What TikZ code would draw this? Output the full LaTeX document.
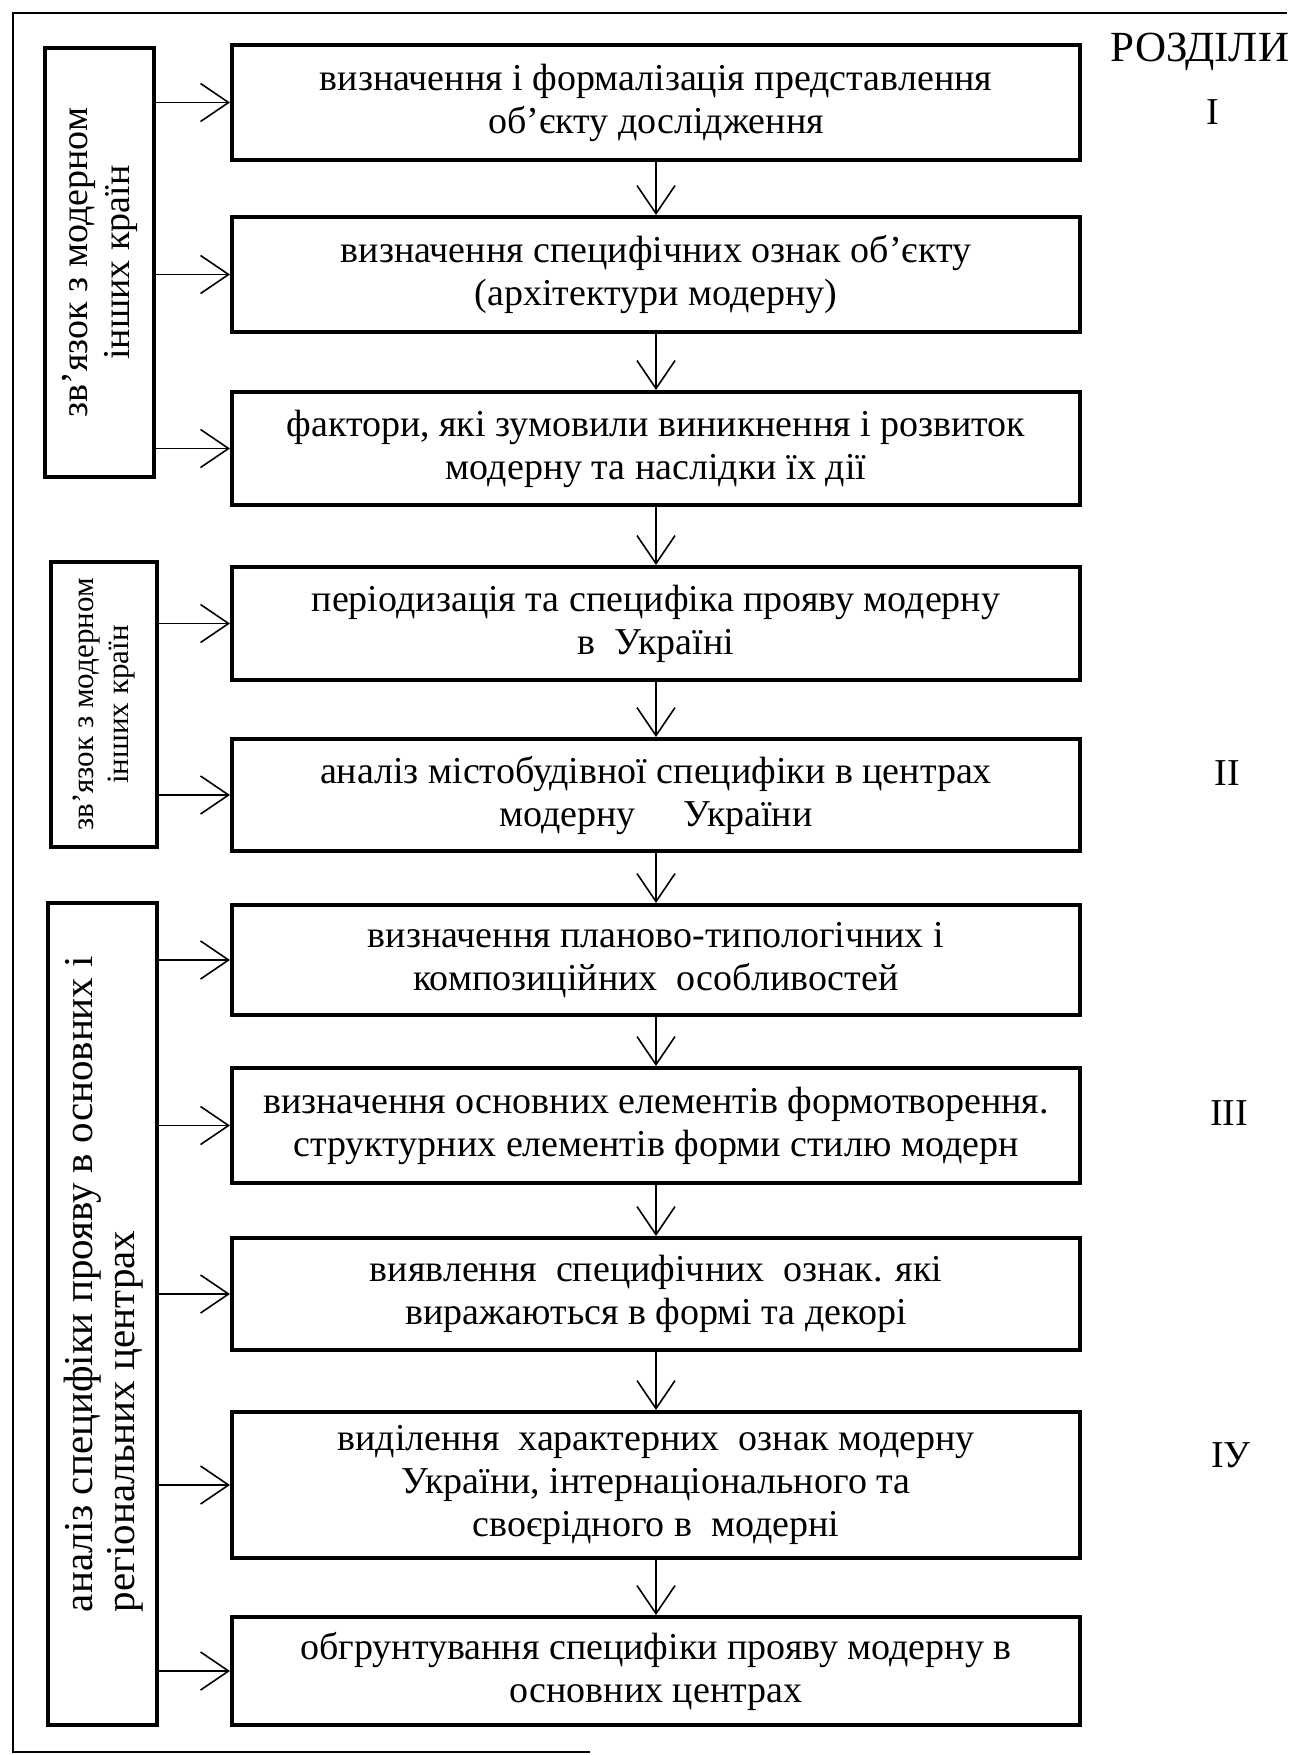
\documentclass[tikz,border=0pt]{standalone}
\usepackage{fontspec}
\setmainfont{Liberation Serif}
\usetikzlibrary{arrows.meta}
\tikzset{
  stage/.style={draw,line width=2pt,minimum width=424pt,inner sep=2pt,align=center,
    font=\fontsize{19pt}{21.5pt}\selectfont},
  side/.style={draw,line width=2pt,inner sep=0pt},
  sidetext/.style={rotate=90,inner sep=0pt,font=\fontsize{19pt}{21pt}\selectfont},
  link/.style={line width=0.8pt,-{Straight Barb[length=14pt,width=19pt,line width=0.8pt]}},
  part/.style={inner sep=0pt,anchor=base,font=\fontsize{19pt}{21pt}\selectfont}
}
\begin{document}
\begin{tikzpicture}[x=0.5pt,y=-0.5pt]
\useasboundingbox (0,0) rectangle (1297,1755);
\draw[line width=0.7pt] (590,1752) -- (13,1752) -- (13,13) -- (1287,13);
\node[stage,minimum height=57.5pt] (b1) at (656,102.5) {визначення і формалізація представлення\\ об’єкту дослідження};
\node[stage,minimum height=57.5pt] (b2) at (656,274.5) {визначення специфічних ознак об’єкту\\ (архітектури модерну)};
\node[stage,minimum height=56.5pt] (b3) at (656,448.5) {фактори, які зумовили виникнення і розвиток\\ модерну та наслідки їх дії};
\node[stage,minimum height=56.5pt] (b4) at (656,623.5) {періодизація та специфіка прояву модерну\\ в~~Україні};
\node[stage,minimum height=56pt] (b5) at (656,795) {аналіз містобудівної специфіки в центрах\\ модерну\quad\ України};
\node[stage,minimum height=55pt] (b6) at (656,960) {визначення планово-типологічних і\\ композиційних~~особливостей};
\node[stage,minimum height=57.5pt] (b7) at (656,1125.5) {визначення основних елементів формотворення.\\ структурних елементів форми стилю модерн};
\node[stage,minimum height=56pt] (b8) at (656,1294) {виявлення~~специфічних~~ознак. які\\ виражаються в формі та декорі};
\node[stage,minimum height=73pt] (b9) at (656,1485) {виділення~~характерних~~ознак модерну\\ України, інтернаціонального та\\ своєрідного в~~модерні};
\node[stage,minimum height=54pt] (b10) at (656,1671) {обгрунтування специфіки прояву модерну в\\ основних центрах};
\node[side,minimum width=54.5pt,minimum height=214.5pt] (s1) at (99.5,262.5) {};
\node[sidetext,align=center] (s1t) at (s1) {зв’язок з модерном\\ інших країн};
\node[side,minimum width=53pt,minimum height=142.5pt] (s2) at (104,704.5) {};
\node[sidetext,align=center,font=\fontsize{15.5pt}{17.5pt}\selectfont] (s2t) at (s2) {зв’язок з модерном\\ інших країн};
\node[side,minimum width=54.5pt,minimum height=411pt] (s3) at (102.5,1314) {};
\node[sidetext,align=left,font=\fontsize{20.5pt}{21pt}\selectfont] (s3t) at (104,1284) {аналіз специфіки прояву в основних і\\ регіональних центрах};
\node[part,font=\fontsize{21.5pt}{23pt}\selectfont] (head) at (1200,62) {РОЗДІЛИ};
\node[part] (p1) at (1213,125) {I};
\node[part] (p2) at (1227,785) {II};
\node[part] (p3) at (1229,1125) {III};
\node[part] (p4) at (1231,1467) {ІУ};
\foreach \i/\j in {b1/b2,b2/b3,b3/b4,b4/b5,b5/b6,b6/b7,b7/b8,b8/b9,b9/b10}
  \draw[link] (\i.south) -- (\j.north);
\foreach \s/\b in {s1/b1,s1/b2,s1/b3,s2/b4,s2/b5,s3/b6,s3/b7,s3/b8,s3/b9,s3/b10}
  \draw[link] (\s.east |- \b.west) -- (\b.west);
\end{tikzpicture}
\end{document}
